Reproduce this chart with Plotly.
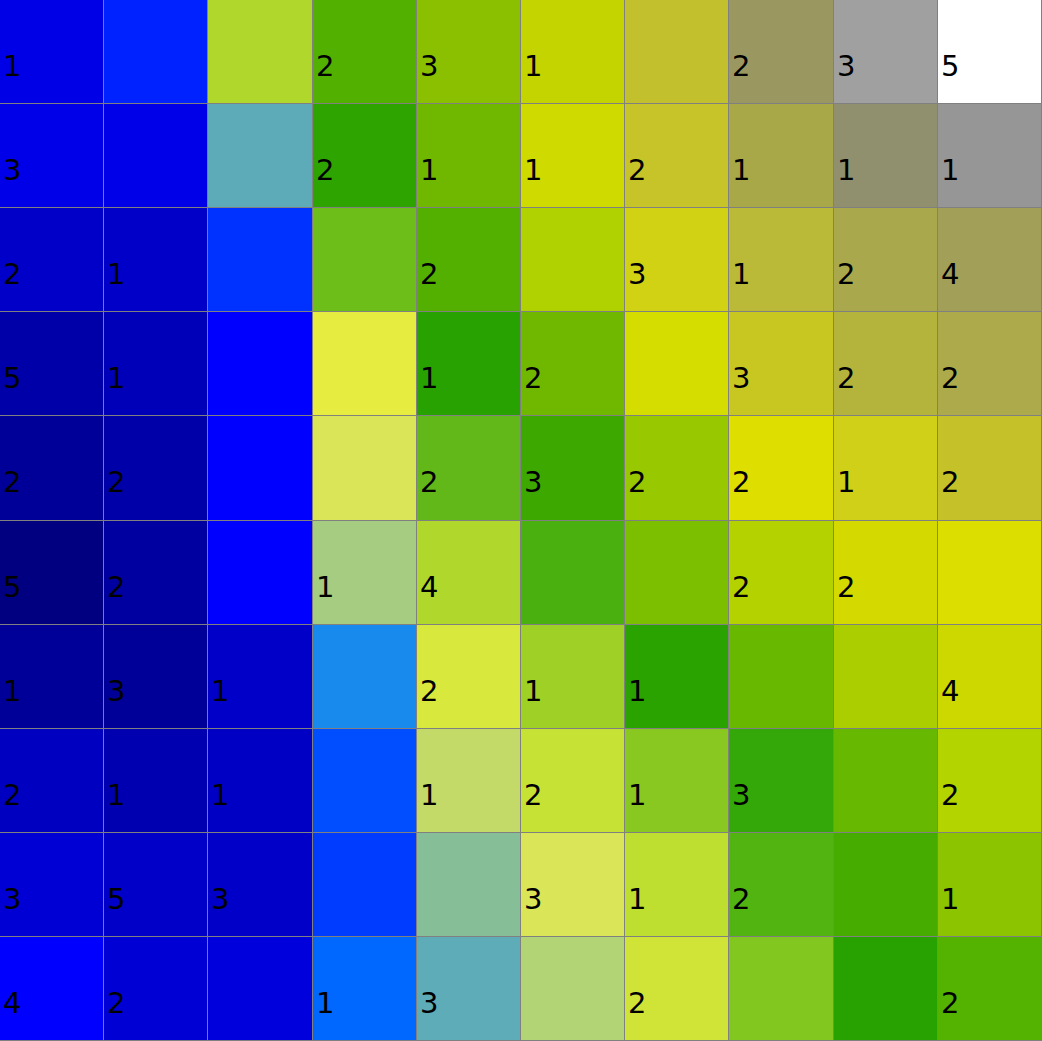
import plotly.graph_objects as go

cell_colors = [
    ["#0000E6", "#0022FF", "#B0D82C", "#52B000", "#8AC000", "#C4D400", "#C2C02C", "#9A9860", "#A0A0A0", "#FFFFFF"],
    ["#0000E8", "#0000E8", "#5DAAB8", "#2EA400", "#70B800", "#CEDA00", "#C6C428", "#A8A848", "#90906E", "#969696"],
    ["#0000C8", "#0000C8", "#0032FF", "#6EBE1A", "#54B000", "#B0D200", "#D2D214", "#BABA38", "#AAA84C", "#A2A058"],
    ["#0000A8", "#0000B8", "#0000FF", "#E6EC40", "#28A200", "#70B800", "#D4DC00", "#C8C620", "#B4B43C", "#ACAA4A"],
    ["#000098", "#0000A8", "#0000FF", "#DAE658", "#62B818", "#3CA800", "#98C800", "#DEDE00", "#D0D018", "#C4C228"],
    ["#000080", "#0000A0", "#0000FF", "#A6CC82", "#B0D82C", "#4AB010", "#7CBE00", "#B4D200", "#D4DA00", "#DCDE00"],
    ["#000098", "#000098", "#0000C8", "#188AEE", "#D8E83C", "#9ED026", "#2AA200", "#68B800", "#AACE00", "#CCD800"],
    ["#0000C0", "#0000B0", "#0000C4", "#004EFF", "#C4DA68", "#C6E234", "#88C820", "#34A808", "#66B800", "#B4D400"],
    ["#0000D4", "#0000C8", "#0000C8", "#003CFF", "#86BE98", "#DAE658", "#BEDE30", "#52B410", "#46AC00", "#8CC400"],
    ["#0000FF", "#0000D4", "#0000DC", "#0068FF", "#5EACB8", "#B2D474", "#D0E438", "#82C620", "#28A200", "#54B200"],
]

cell_labels = [
    ["1", "", "", "2", "3", "1", "", "2", "3", "5"],
    ["3", "", "", "2", "1", "1", "2", "1", "1", "1"],
    ["2", "1", "", "", "2", "", "3", "1", "2", "4"],
    ["5", "1", "", "", "1", "2", "", "3", "2", "2"],
    ["2", "2", "", "", "2", "3", "2", "2", "1", "2"],
    ["5", "2", "", "1", "4", "", "", "2", "2", ""],
    ["1", "3", "1", "", "2", "1", "1", "", "", "4"],
    ["2", "1", "1", "", "1", "2", "1", "3", "", "2"],
    ["3", "5", "3", "", "", "3", "1", "2", "", "1"],
    ["4", "2", "", "1", "3", "", "2", "", "", "2"],
]

n_rows = len(cell_colors)
n_cols = len(cell_colors[0])

# palette of distinct colour levels, z = level index
palette = []
for row in cell_colors:
    for c in row:
        if c not in palette:
            palette.append(c)
z = [[palette.index(c) for c in row] for row in cell_colors]
n = len(palette)
colorscale = [[i / (n - 1), c] for i, c in enumerate(palette)]

fig = go.Figure(
    go.Heatmap(
        z=z,
        x=list(range(n_cols)),
        y=list(range(n_rows)),
        colorscale=colorscale,
        zmin=0,
        zmax=n - 1,
        showscale=False,
        xgap=1,
        ygap=1,
        hoverinfo="skip",
    )
)

annotations = []
for i in range(n_rows):
    for j in range(n_cols):
        lab = cell_labels[i][j]
        if lab:
            annotations.append(dict(
                x=j - 0.5, y=i, xref="x", yref="y",
                text=lab, showarrow=False,
                xanchor="left", yanchor="middle",
                xshift=1, yshift=-14,
                font=dict(family="DejaVu Sans", size=29, color="black"),
            ))

fig.update_layout(
    width=1042, height=1041,
    margin=dict(l=0, r=0, t=0, b=0),
    paper_bgcolor="#808080",
    plot_bgcolor="#808080",
    annotations=annotations,
    xaxis=dict(range=[-0.5, n_cols - 0.5], showgrid=False, zeroline=False,
               showticklabels=False, ticks="", fixedrange=True,
               showline=True, mirror=True, linecolor="#808080", linewidth=1),
    yaxis=dict(range=[n_rows - 0.5, -0.5], showgrid=False, zeroline=False,
               showticklabels=False, ticks="", fixedrange=True,
               showline=True, mirror=True, linecolor="#808080", linewidth=1),
)

fig.write_html("out.html")
